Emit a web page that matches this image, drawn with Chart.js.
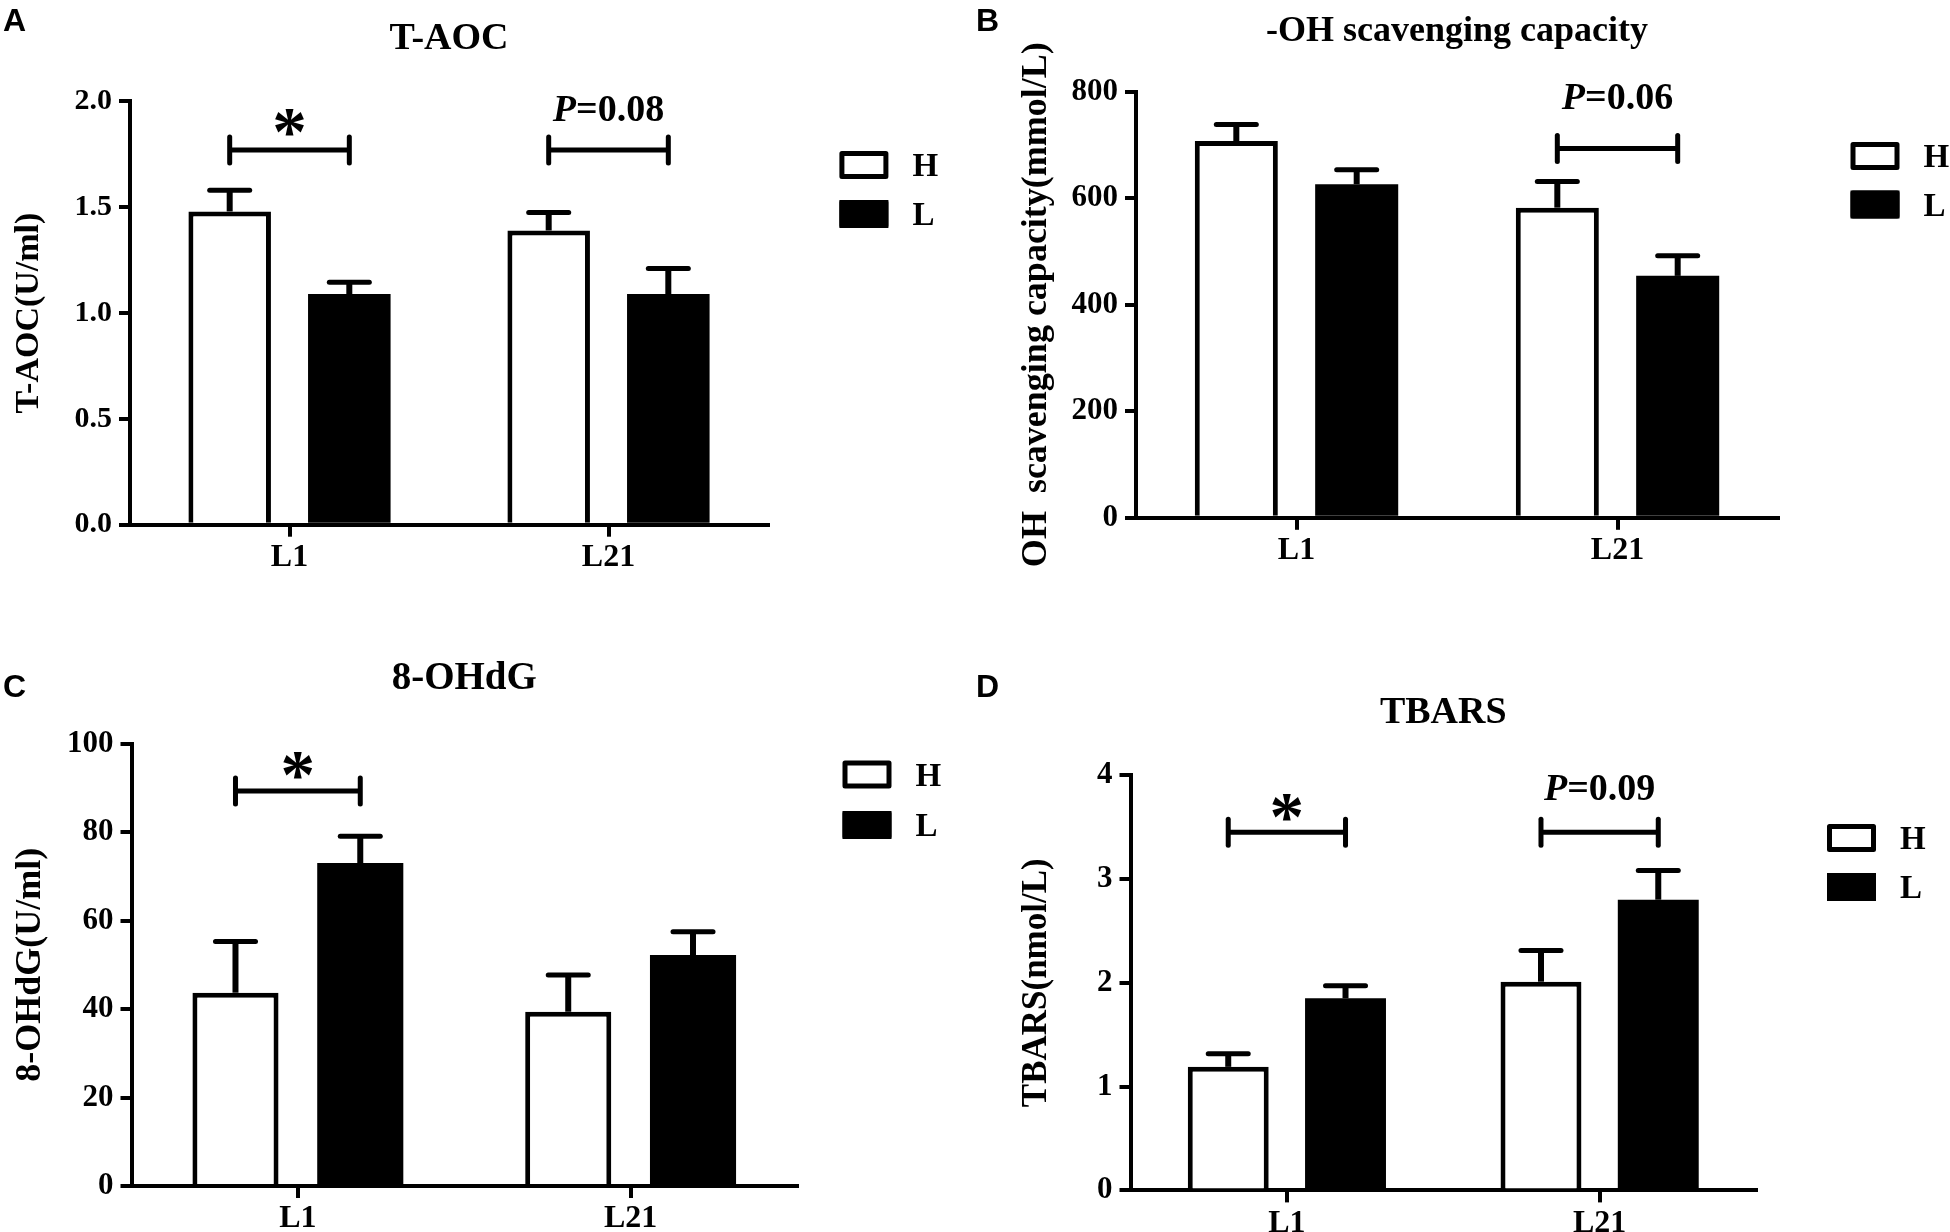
<!DOCTYPE html>
<html>
<head>
<meta charset="utf-8">
<script src="https://cdn.jsdelivr.net/npm/chart.js@4.4.1/dist/chart.umd.min.js"></script>
<style>
  html, body { margin: 0; padding: 0; background: #fff; }
  #wrap { position: relative; width: 1950px; height: 1232px; overflow: hidden; background: #fff; }
  canvas { position: absolute; }
</style>
</head>
<body>
<div id="wrap">
  <canvas id="cA" width="975" height="616" style="left:0px;top:0px;width:975px;height:616px"></canvas>
  <canvas id="cB" width="975" height="616" style="left:975px;top:0px;width:975px;height:616px"></canvas>
  <canvas id="cC" width="975" height="616" style="left:0px;top:616px;width:975px;height:616px"></canvas>
  <canvas id="cD" width="975" height="616" style="left:975px;top:616px;width:975px;height:616px"></canvas>
</div>
<script>
const groups = ['L1', 'L21'];
const seriesNames = ['H', 'L'];

// A: T-AOC
const taocH = [1.48, 1.39];
const taocHErr = [0.10, 0.085];
const taocL = [1.09, 1.09];
const taocLErr = [0.055, 0.12];
const taocTicks = ['0.0', '0.5', '1.0', '1.5', '2.0'];
const taocSig = [1.77, 1.77];
const taocSigText = ['*', 'P=0.08'];

// B: -OH scavenging capacity
const ohH = [707, 582];
const ohHErr = [31, 49];
const ohL = [626, 454];
const ohLErr = [27, 38];
const ohTicks = ['0', '200', '400', '600', '800'];
const ohSig = [null, 693];
const ohSigText = [null, 'P=0.06'];

// C: 8-OHdG
const dgH = [43.7, 39.4];
const dgHErr = [11.6, 8.3];
const dgL = [73.0, 52.2];
const dgLErr = [6.1, 5.3];
const dgTicks = ['0', '20', '40', '60', '80', '100'];
const dgSig = [89.3, null];
const dgSigText = ['*', null];

// D: TBARS
const tbH = [1.19, 2.01];
const tbHErr = [0.125, 0.30];
const tbL = [1.85, 2.80];
const tbLErr = [0.12, 0.28];
const tbTicks = ['0', '1', '2', '3', '4'];
const tbSig = [3.45, 3.45];
const tbSigText = ['*', 'P=0.09'];

const SERIF = "'Liberation Serif', 'Times New Roman', serif";
const SANS = "'Liberation Sans', Arial, sans-serif";

// error bars, significance brackets, legend and panel letter
const decor = {
  id: 'decor',
  afterDatasetsDraw(chart, args, opts) {
    const ctx = chart.ctx;
    const y = chart.scales.y;
    ctx.save();
    ctx.strokeStyle = '#000';
    ctx.fillStyle = '#000';

    chart.data.datasets.forEach((ds, i) => {
      chart.getDatasetMeta(i).data.forEach((bar, j) => {
        const top = y.getPixelForValue(ds.data[j] + ds.errors[j]);
        ctx.lineCap = 'butt';
        ctx.lineWidth = 6;
        ctx.beginPath();
        ctx.moveTo(bar.x, bar.y);
        ctx.lineTo(bar.x, top);
        ctx.stroke();
        ctx.lineCap = 'round';
        ctx.lineWidth = 5;
        ctx.beginPath();
        ctx.moveTo(bar.x - 20, top);
        ctx.lineTo(bar.x + 20, top);
        ctx.stroke();
      });
    });

    const m0 = chart.getDatasetMeta(0).data;
    const m1 = chart.getDatasetMeta(1).data;
    opts.sig.forEach((v, j) => {
      if (v === null) return;
      const x1 = m0[j].x, x2 = m1[j].x;
      const yy = y.getPixelForValue(v);
      ctx.lineWidth = 5;
      ctx.lineCap = 'butt';
      ctx.beginPath();
      ctx.moveTo(x1, yy);
      ctx.lineTo(x2, yy);
      ctx.stroke();
      ctx.lineCap = 'round';
      [x1, x2].forEach(x => {
        ctx.beginPath();
        ctx.moveTo(x, yy - 13);
        ctx.lineTo(x, yy + 13);
        ctx.stroke();
      });
      const xc = (x1 + x2) / 2;
      const txt = opts.sigText[j];
      if (txt === '*') {
        ctx.font = 'bold 100px ' + SERIF;
        const m = ctx.measureText('*');
        const w100 = m.actualBoundingBoxLeft + m.actualBoundingBoxRight;
        const size = 100 * 29 / w100;
        ctx.font = 'bold ' + size + 'px ' + SERIF;
        const mm = ctx.measureText('*');
        const cy = yy - opts.starGap;
        ctx.textAlign = 'center';
        ctx.textBaseline = 'alphabetic';
        ctx.fillText('*', xc, cy + (mm.actualBoundingBoxAscent - mm.actualBoundingBoxDescent) / 2);
      } else {
        const head = txt.charAt(0), rest = txt.slice(1);
        const fItal = 'italic bold 38px ' + SERIF;
        const fBold = 'bold 38px ' + SERIF;
        ctx.font = fItal;
        const wh = ctx.measureText(head).width;
        ctx.font = fBold;
        const wr = ctx.measureText(rest).width;
        const x0 = xc - (wh + wr) / 2;
        const base = yy - opts.pGap + 12.5;
        ctx.textAlign = 'left';
        ctx.textBaseline = 'alphabetic';
        ctx.font = fItal;
        ctx.fillText(head, x0, base);
        ctx.font = fBold;
        ctx.fillText(rest, x0 + wh, base);
      }
    });
    ctx.restore();
  },
  afterDraw(chart, args, opts) {
    const ctx = chart.ctx;
    ctx.save();
    const lg = opts.legend;
    chart.data.datasets.forEach((ds, i) => {
      const bx = lg.x, by = lg.y + i * lg.gap;
      ctx.fillStyle = ds.backgroundColor;
      ctx.fillRect(bx, by, 49, 28);
      ctx.strokeStyle = '#000';
      ctx.lineWidth = 5;
      ctx.lineJoin = 'round';
      ctx.strokeRect(bx + 2.5, by + 2.5, 44, 23);
      ctx.fillStyle = '#000';
      ctx.font = 'bold 33px ' + SERIF;
      ctx.textAlign = 'left';
      ctx.textBaseline = 'alphabetic';
      ctx.fillText(ds.label, bx + 73, by + 14 + 11);
    });
    ctx.font = 'bold 32px ' + SANS;
    ctx.fillText(opts.letter.text, opts.letter.x, opts.letter.y);
    ctx.restore();
  }
};

function makePanel(id, p) {
  return new Chart(document.getElementById(id), {
    type: 'bar',
    data: {
      labels: groups,
      datasets: [{
        label: seriesNames[0],
        data: p.h,
        errors: p.hErr,
        backgroundColor: '#ffffff',
        borderColor: '#000000',
        borderWidth: 5
      }, {
        label: seriesNames[1],
        data: p.l,
        errors: p.lErr,
        backgroundColor: '#000000',
        borderColor: '#000000',
        borderWidth: 0
      }]
    },
    options: {
      responsive: false,
      animation: false,
      devicePixelRatio: 1,
      events: [],
      categoryPercentage: 0.75,
      barPercentage: 0.69,
      layout: { padding: { left: 0, right: p.padRight, top: p.padTop, bottom: 0 } },
      scales: {
        x: {
          offset: true,
          grid: { display: true, drawOnChartArea: false, drawTicks: true, tickLength: 12, lineWidth: 4, color: '#000', offset: false },
          border: { display: true, width: 4, color: '#000' },
          ticks: { color: '#000', padding: 2, font: { family: SERIF, size: 32, weight: 'bold' } },
          afterFit: s => { s.height = p.xHeight; }
        },
        y: {
          min: 0,
          max: p.max,
          grid: { display: true, drawOnChartArea: false, drawTicks: true, tickLength: 11, lineWidth: 4, color: '#000' },
          border: { display: true, width: 4, color: '#000' },
          ticks: {
            stepSize: p.step,
            color: '#000',
            padding: 7,
            font: { family: SERIF, size: p.tickSize, weight: 'bold' },
            callback: (v, i) => p.ticks[i]
          },
          title: {
            display: true,
            text: p.yTitle,
            color: '#000',
            font: { family: SERIF, size: p.yTitleSize, weight: 'bold' },
            padding: { top: p.yTitlePad, bottom: 0 }
          },
          afterFit: s => { s.width = p.yWidth; }
        }
      },
      plugins: {
        legend: { display: false },
        tooltip: { enabled: false },
        title: {
          display: true,
          text: p.title,
          color: '#000',
          fullSize: false,
          font: { family: SERIF, size: p.titleSize, weight: 'bold' },
          padding: { top: 0, bottom: p.titlePadBottom }
        },
        decor: {
          sig: p.sig,
          sigText: p.sigText,
          starGap: p.starGap,
          pGap: p.pGap,
          legend: p.legend,
          letter: p.letter
        }
      }
    },
    plugins: [decor]
  });
}

makePanel('cA', {
  h: taocH, hErr: taocHErr, l: taocL, lErr: taocLErr, ticks: taocTicks, max: 2, step: 0.5,
  sig: taocSig, sigText: taocSigText, starGap: 27.5, pGap: 42,
  title: 'T-AOC', titleSize: 38, padTop: 16.5, titlePadBottom: 39.3,
  yTitle: 'T-AOC(U/ml)', yTitleSize: 34, yTitlePad: 9.1,
  yWidth: 130, padRight: 207, xHeight: 91.3, tickSize: 30,
  legend: { x: 839.4, y: 151, gap: 49 }, letter: { text: 'A', x: 3, y: 30.7 }
});

makePanel('cB', {
  h: ohH, hErr: ohHErr, l: ohL, lErr: ohLErr, ticks: ohTicks, max: 800, step: 200,
  sig: ohSig, sigText: ohSigText, starGap: 27, pGap: 52,
  title: '-OH scavenging capacity', titleSize: 36, padTop: 10.4, titlePadBottom: 37.9,
  yTitle: 'OH  scavenging capacity(mmol/L)', yTitleSize: 36, yTitlePad: 40.4,
  yWidth: 161, padRight: 172, xHeight: 98.2, tickSize: 31,
  legend: { x: 875.5, y: 142, gap: 48.5 }, letter: { text: 'B', x: 1, y: 30.7 }
});

makePanel('cC', {
  h: dgH, hErr: dgHErr, l: dgL, lErr: dgLErr, ticks: dgTicks, max: 100, step: 20,
  sig: dgSig, sigText: dgSigText, starGap: 26, pGap: 44,
  title: '8-OHdG', titleSize: 39, padTop: 39.5, titlePadBottom: 41.4,
  yTitle: '8-OHdG(U/ml)', yTitleSize: 36, yTitlePad: 9.4,
  yWidth: 131.5, padRight: 178, xHeight: 46, tickSize: 31,
  legend: { x: 842.5, y: 144.6, gap: 50.4 }, letter: { text: 'C', x: 3, y: 81 }
});

makePanel('cD', {
  h: tbH, hErr: tbHErr, l: tbL, lErr: tbLErr, ticks: tbTicks, max: 4, step: 1,
  sig: tbSig, sigText: tbSigText, starGap: 24.5, pGap: 45,
  title: 'TBARS', titleSize: 38, padTop: 74.5, titlePadBottom: 39,
  yTitle: 'TBARS(nmol/L)', yTitleSize: 35, yTitlePad: 41,
  yWidth: 155.5, padRight: 194, xHeight: 41.6, tickSize: 31,
  legend: { x: 852, y: 208, gap: 49 }, letter: { text: 'D', x: 1, y: 81 }
});
</script>
</body>
</html>
